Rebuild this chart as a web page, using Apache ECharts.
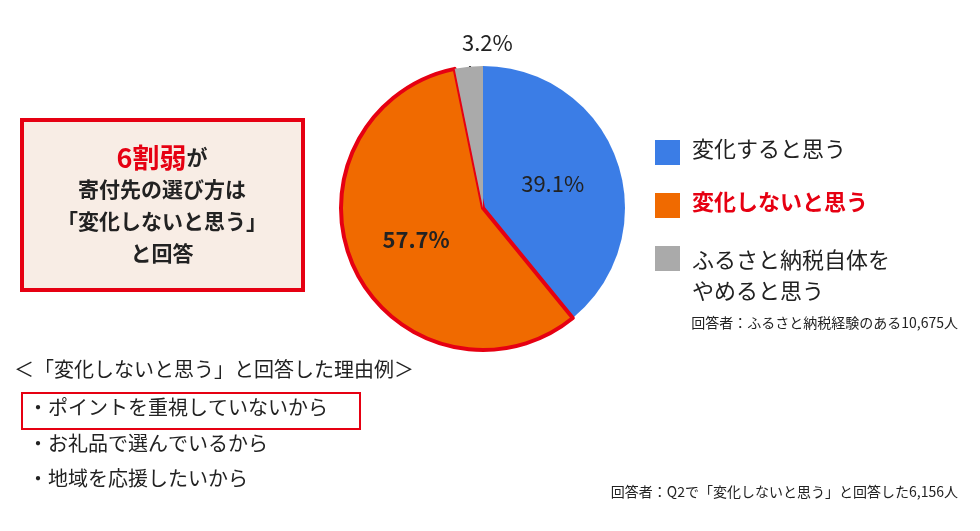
<!DOCTYPE html>
<html><head><meta charset="utf-8">
<script src="https://cdn.jsdelivr.net/npm/echarts@6/dist/echarts.min.js"></script>
<style>html,body{margin:0;padding:0;background:#fff}#c{width:980px;height:531px}</style>
</head><body><div id="c"></div>
<script>
const categories = ['変化すると思う', '変化しないと思う', 'ふるさと納税自体を\nやめると思う'];
const values = [39.1, 57.7, 3.2];
const colors = ['#3b7de6', '#f06a00', '#aaaaaa'];
const reasons = ['・ポイントを重視していないから', '・お礼品で選んでいるから', '・地域を応援したいから'];
const F = '"Noto Sans CJK JP", "Noto Sans", sans-serif';
const chart = echarts.init(document.getElementById('c'));
const data = values.map((v, i) => {
  const d = {name: categories[i], value: v, itemStyle: {color: colors[i]}};
  if (i === 1) { d.itemStyle.borderColor = '#e60012'; d.itemStyle.borderWidth = 4; d.label = {fontWeight: 'bold'}; }
  if (i === 2) { d.label = {show: false}; }
  return d;
});
chart.setOption({
  animation: false,
  series: [{
    type: 'pie', center: [483, 208], radius: [0, 142], startAngle: 90, clockwise: true,
    data: data,
    label: {
      position: 'inner', fontFamily: F, fontSize: 22, color: '#222',
      formatter: p => p.value.toFixed(1) + '%'
    },
    labelLine: {show: false}
  }],
  graphic: [
    {type: 'rect', shape: {x: 22, y: 120, width: 281, height: 170}, style: {fill: '#f8ede5', stroke: '#e60012', lineWidth: 4}},
    {type: 'text', x: 162, y: 144, style: {text: '{r|6割弱}{b|が}', fontFamily: F, textAlign: 'center', rich: {r: {fontSize: 27, fontWeight: 'bold', fill: '#e60012', fontFamily: F}, b: {fontSize: 21, fontWeight: 'bold', fill: '#222', fontFamily: F}}}},
    {type: 'text', x: 162, y: 179, style: {text: '寄付先の選び方は', fontFamily: F, fontSize: 21, fontWeight: 'bold', fill: '#222', textAlign: 'center'}},
    {type: 'text', x: 162, y: 211, style: {text: '「変化しないと思う」', fontFamily: F, fontSize: 21, fontWeight: 'bold', fill: '#222', textAlign: 'center'}},
    {type: 'text', x: 162, y: 243, style: {text: 'と回答', fontFamily: F, fontSize: 21, fontWeight: 'bold', fill: '#222', textAlign: 'center'}},
    {type: 'line', shape: {x1: 470, y1: 66, x2: 470, y2: 100}, style: {stroke: '#222', lineWidth: 2}},
    {type: 'text', x: 462, y: 32, style: {text: '3.2%', fontFamily: F, fontSize: 22, fill: '#222'}},
    {type: 'rect', shape: {x: 655, y: 140, width: 25, height: 25}, style: {fill: colors[0]}},
    {type: 'rect', shape: {x: 655, y: 193, width: 25, height: 25}, style: {fill: colors[1]}},
    {type: 'rect', shape: {x: 655, y: 246, width: 25, height: 25}, style: {fill: colors[2]}},
    {type: 'text', x: 692, y: 138, style: {text: categories[0], fontFamily: F, fontSize: 22, fill: '#222'}},
    {type: 'text', x: 692, y: 191, style: {text: categories[1], fontFamily: F, fontSize: 22, fontWeight: 'bold', fill: '#e60012'}},
    {type: 'text', x: 692, y: 244, style: {text: categories[2], fontFamily: F, fontSize: 22, fill: '#222', lineHeight: 31}},
    {type: 'text', x: 958, y: 316, style: {text: '回答者：ふるさと納税経験のある10,675人', fontFamily: F, fontSize: 14, fill: '#222', textAlign: 'right'}},
    {type: 'text', x: 14, y: 359, style: {text: '＜「変化しないと思う」と回答した理由例＞', fontFamily: F, fontSize: 20, fill: '#222'}},
    {type: 'rect', shape: {x: 22, y: 393, width: 338, height: 36}, style: {fill: 'none', stroke: '#e60012', lineWidth: 2}},
    {type: 'text', x: 28, y: 397, style: {text: reasons[0], fontFamily: F, fontSize: 20, fill: '#222'}},
    {type: 'text', x: 28, y: 433, style: {text: reasons[1], fontFamily: F, fontSize: 20, fill: '#222'}},
    {type: 'text', x: 28, y: 468, style: {text: reasons[2], fontFamily: F, fontSize: 20, fill: '#222'}},
    {type: 'text', x: 958, y: 485, style: {text: '回答者：Q2で「変化しないと思う」と回答した6,156人', fontFamily: F, fontSize: 14, fill: '#222', textAlign: 'right'}}
  ]
});
</script></body></html>
